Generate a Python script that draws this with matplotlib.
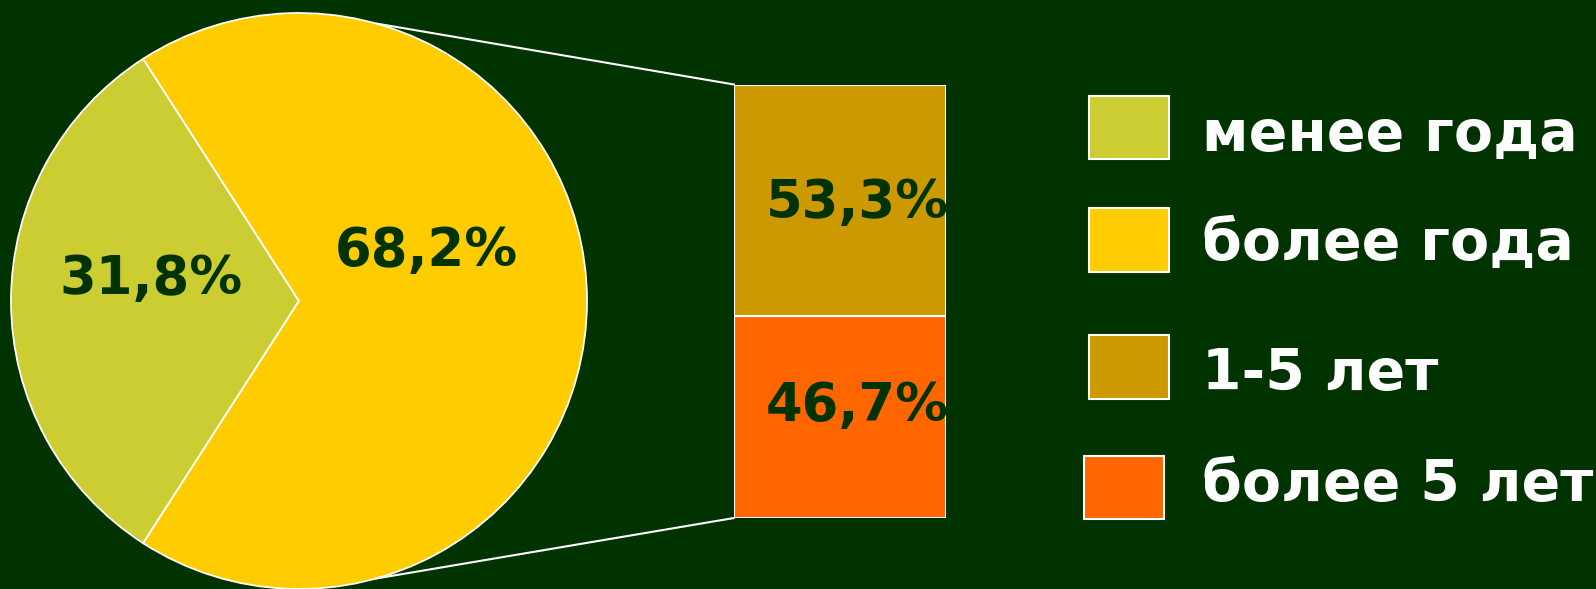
import matplotlib
matplotlib.use("Agg")
import matplotlib.pyplot as plt
from matplotlib.patches import ConnectionPatch, Rectangle
import numpy as np

# Data
pie_labels = ["менее года", "более года"]
pie_values = [31.8, 68.2]
bar_labels = ["1-5 лет", "более 5 лет"]
bar_values = [53.3, 46.7]

BG = "#003300"
TEXT_DARK = "#003300"
pie_colors = ["#CCCC33", "#FFCC00"]
bar_colors = ["#CC9900", "#FF6600"]

W, H = 1596, 589
fig = plt.figure(figsize=(W / 100, H / 100), dpi=100, facecolor=BG)


def fr(x, y, w, h):
    """Pixel box (from top-left) to figure fraction rect."""
    return [x / W, 1 - (y + h) / H, w / W, h / H]


def fmt(v):
    return f"{v:.1f}".replace(".", ",") + "%"


# Pie
cx, cy, r = 299, 301, 288
ax_pie = fig.add_axes(fr(cx - r, cy - r, 2 * r, 2 * r))
ax_pie.set_facecolor(BG)
ax_pie.axis("off")
start = 180 - pie_values[0] / 100 * 180
wedges, _ = ax_pie.pie(pie_values, colors=pie_colors, startangle=start,
                       counterclock=True, radius=1,
                       wedgeprops=dict(edgecolor="white", linewidth=1.3))
ax_pie.set_xlim(-1, 1)
ax_pie.set_ylim(-1, 1)
ax_pie.set_aspect("equal")

pie_text_pos = [(-0.515, 0.075), (0.443, 0.175)]
for (tx, ty), v in zip(pie_text_pos, pie_values):
    ax_pie.text(tx, ty, fmt(v), ha="center", va="center", fontsize=38,
                fontweight="bold", color=TEXT_DARK, family="DejaVu Sans")

# Stacked bar
ax_bar = fig.add_axes(fr(734, 84.5, 212, 433.5))
ax_bar.axis("off")
bottom = 0
for i in [1, 0]:
    ax_bar.bar(0, bar_values[i], width=1, bottom=bottom, color=bar_colors[i],
               edgecolor="white", linewidth=1.5)
    bottom += bar_values[i]
ax_bar.set_xlim(-0.5, 0.5)
ax_bar.set_ylim(0, sum(bar_values))

bar_text_pos = [(0.08, bar_values[1] + bar_values[0] / 2 - 0.8),
                (0.08, bar_values[1] / 2 + 2.4)]
for (tx, ty), v in zip(bar_text_pos, bar_values):
    ax_bar.text(tx, ty, fmt(v), ha="center", va="center", fontsize=38,
                fontweight="bold", color=TEXT_DARK, family="DejaVu Sans",
                clip_on=False)

# Connector lines from the pie rim to the bar corners
ang = np.deg2rad(74.5)
for sign, ybar in [(1, sum(bar_values)), (-1, 0)]:
    con = ConnectionPatch(xyA=(-0.5, ybar), coordsA=ax_bar.transData,
                          xyB=(np.cos(ang), sign * np.sin(ang)),
                          coordsB=ax_pie.transData,
                          color="white", linewidth=1.5)
    fig.add_artist(con)

# Legend
legend_labels = pie_labels + bar_labels
legend_colors = pie_colors + bar_colors
swatches = [(1089, 96, 80, 63), (1089, 208, 80, 64),
            (1089, 335, 80, 64), (1084, 456, 80, 63)]
baselines = [151, 260, 390, 501]
for (sx, sy, sw, sh), c, lab, by in zip(swatches, legend_colors,
                                        legend_labels, baselines):
    fig.add_artist(Rectangle((sx / W, 1 - (sy + sh) / H), sw / W, sh / H,
                             transform=fig.transFigure, facecolor=c,
                             edgecolor="white", linewidth=1.5))
    fig.text(1202 / W, 1 - by / H, lab, ha="left", va="baseline",
             fontsize=41, fontweight="bold", color="white",
             family="DejaVu Sans")

fig.savefig("out.png", dpi=100, facecolor=BG)
